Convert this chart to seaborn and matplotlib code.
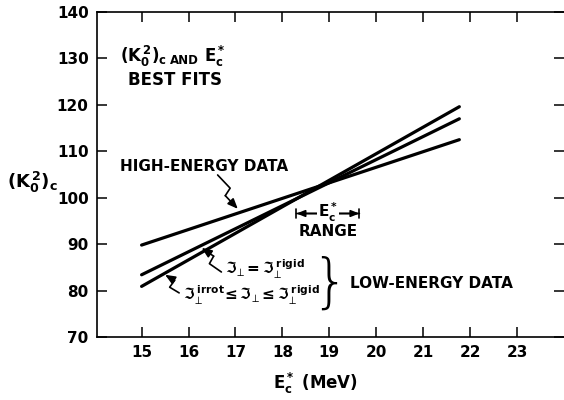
import numpy as np
import matplotlib
matplotlib.use("Agg")
import matplotlib.pyplot as plt
import seaborn as sns

# best-fit lines at their end points
energy_ends = [15.0, 21.77]
high_energy = [89.8, 112.5]
rigid_fit = [83.4, 117.0]
irrot_fit = [80.9, 119.6]

x_ticks = [15, 16, 17, 18, 19, 20, 21, 22, 23]
y_ticks = [70, 80, 90, 100, 110, 120, 130, 140]
range_ends = [18.3, 19.64]

sns.set_style("ticks")
plt.rcParams['font.family'] = ['DejaVu Sans']
plt.rcParams['mathtext.fontset'] = 'dejavusans'
plt.rcParams['mathtext.default'] = 'regular'
for k in ['text.color', 'axes.labelcolor', 'xtick.color', 'ytick.color',
          'axes.edgecolor']:
    plt.rcParams[k] = 'black'

fig = plt.figure(figsize=(5.64, 4.0), dpi=100)
ax = fig.add_axes([0.172, 0.1575, 0.828, 0.8125])

for ys in [high_energy, rigid_fit, irrot_fit]:
    sns.lineplot(x=energy_ends, y=ys, ax=ax, color='black', lw=2.3)

ax.set_xlim(14.05, 24.0)
ax.set_ylim(70, 140)
ax.set_xticks(x_ticks)
ax.set_yticks(y_ticks)
ax.tick_params(direction='in', length=7, width=1.1, labelsize=11,
               top=True, right=True, pad=6)
for lab in ax.get_xticklabels() + ax.get_yticklabels():
    lab.set_fontweight('bold')
for s in ['left', 'bottom', 'top']:
    ax.spines[s].set_linewidth(1.2)
ax.spines['right'].set_visible(False)

ax.set_xlabel(r'$E_c^*$ (MeV)', fontsize=12, fontweight='bold')
ax.xaxis.set_label_coords(0.467, -0.105)
ax.set_ylabel(r'$(K_0^{\,2})_c$', fontsize=13, fontweight='bold', rotation=0,
              ha='center', va='center')
ax.yaxis.set_label_coords(-0.139, 0.477)

# title block
ax.text(14.54, 130.4, r'$(K_0^{\,2})_c$', fontsize=12, fontweight='bold',
        va='center')
ax.text(15.6, 129.6, 'AND', fontsize=8.5, fontweight='bold', va='center')
ax.text(16.32, 130.4, r'$E_c^*$', fontsize=12, fontweight='bold', va='center')
ax.text(14.7, 125.3, 'BEST FITS', fontsize=12, fontweight='bold', va='center')

ax.text(14.54, 106.8, 'HIGH-ENERGY DATA', fontsize=11, fontweight='bold',
        va='center')
ax.text(19.43, 81.6, 'LOW-ENERGY DATA', fontsize=11, fontweight='bold',
        va='center')
ax.text(16.77, 84.6, r'$\Im_{\!\perp}\!=\Im_{\!\perp}^{\;rigid}$', fontsize=11,
        fontweight='bold', va='center')
ax.text(15.88, 79.0,
        r'$\Im_{\!\perp}^{\;irrot}\!\leq\Im_{\!\perp}\!\leq\Im_{\!\perp}^{\;rigid}$',
        fontsize=11, fontweight='bold', va='center')
ax.text(19.0, 81.3, '}', fontsize=42, va='center', ha='center',
        fontweight='light')

# E_c* range marker
ymark = 96.6
xm = np.mean(range_ends)
ax.annotate('', xy=(range_ends[0], ymark), xytext=(range_ends[1], ymark),
            arrowprops=dict(arrowstyle='|-|,widthA=0.35,widthB=0.35', lw=1.2,
                            color='black', shrinkA=0, shrinkB=0))
for xe in range_ends:
    ax.annotate('', xy=(xe, ymark), xytext=(xm, ymark),
                arrowprops=dict(arrowstyle='-|>,head_length=0.5,head_width=0.2',
                                lw=1.2, color='black', shrinkA=0, shrinkB=0))
ax.text(xm, ymark + 0.3, r'$E_c^*$', fontsize=11, fontweight='bold',
        ha='center', va='center', bbox=dict(fc='white', ec='none', pad=1))
ax.text(xm, 92.8, 'RANGE', fontsize=11, fontweight='bold', ha='center',
        va='center')


def zigzag(start, tip, jog=4.0):
    p0 = ax.transData.transform(start)
    p3 = ax.transData.transform(tip)
    d = p3 - p0
    perp = np.array([-d[1], d[0]]) / np.hypot(*d)
    p1 = p0 + 0.45 * d + jog * perp
    p2 = p0 + 0.55 * d - jog * perp
    pts = ax.transData.inverted().transform(np.array([p0, p1, p2]))
    ax.plot(pts[:, 0], pts[:, 1], color='black', lw=1.2)
    ax.annotate('', xy=tip, xytext=tuple(pts[-1]),
                arrowprops=dict(arrowstyle='-|>,head_length=0.6,head_width=0.25',
                                lw=1.2, color='black', shrinkA=0, shrinkB=0))


zigzag((16.62, 104.9), (17.05, 97.6))
zigzag((16.7, 84.0), (16.28, 89.2))
zigzag((15.8, 79.5), (15.5, 83.4))

fig.savefig('out.png', dpi=100)
